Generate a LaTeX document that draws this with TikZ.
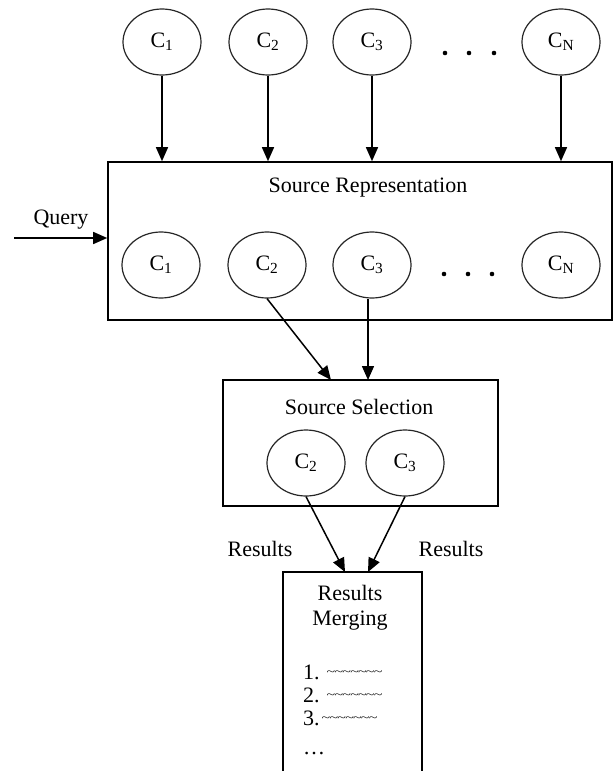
\documentclass[tikz,border=0pt]{standalone}
\usepackage{fontspec}
\setmainfont{Liberation Serif}
\usetikzlibrary{arrows.meta,shapes.geometric}

% a short run of flattened tildes standing for a result entry
\newcommand\tildes{\raisebox{4pt}{\scalebox{1}[0.7]{\fontsize{16}{16}\selectfont
  \textasciitilde\kern-0.8pt\textasciitilde\kern-0.8pt\textasciitilde\kern-0.8pt%
  \textasciitilde\kern-0.8pt\textasciitilde\kern-0.8pt\textasciitilde\kern-0.8pt\textasciitilde}}}

\begin{document}
\begin{tikzpicture}[x=1pt,y=-1pt,
  every node/.style={font=\fontsize{22}{25}\selectfont, text=black},
  coll/.style={ellipse, draw=black!85, line width=1.2pt, minimum width=78pt,
               minimum height=66pt, inner sep=0pt},
  panel/.style={rectangle, draw=black, line width=1.6pt, inner sep=0pt},
  boxline/.style={draw=black, line width=1.6pt},
  arr/.style={draw=black, line width=1.5pt,
              -{Triangle[length=14pt,width=12pt]}},
  dotmark/.style={fill=black},
]
\useasboundingbox (0,0) rectangle (614,771);

% collections feeding the source representation
\node[coll] (t1) at (162,42) {C\textsubscript{1}};
\node[coll] (t2) at (268,42) {C\textsubscript{2}};
\node[coll] (t3) at (372,42) {C\textsubscript{3}};
\node[coll] (tN) at (561,42) {C\textsubscript{N}};
\foreach \x in {445,469,494} \fill[dotmark] (\x,53) circle (2.3pt);

% source representation panel
\node[panel, minimum width=504pt, minimum height=158pt] (sr) at (360,241) {};
\node (srl) at (368,188) {Source Representation};
\node[coll] (r1) at (161,265) {C\textsubscript{1}};
\node[coll] (r2) at (267,265) {C\textsubscript{2}};
\node[coll] (r3) at (372,265) {C\textsubscript{3}};
\node[coll] (rN) at (561,265) {C\textsubscript{N}};
\foreach \x in {444,468,492} \fill[dotmark] (\x,274) circle (2.3pt);

\foreach \n in {t1,t2,t3,tN}
  \draw[arr] (\n.south) -- (\n.south |- sr.north);

% query input
\coordinate (qin) at (14,238);
\node (ql) at (61,220) {Query};
\draw[arr] (qin) -- (qin -| sr.west);

% source selection panel
\node[panel, minimum width=275pt, minimum height=126pt] (ss) at (360.5,443) {};
\node (ssl) at (359,407) {Source Selection};
\node[coll] (s2) at (306,463) {C\textsubscript{2}};
\node[coll] (s3) at (405,463) {C\textsubscript{3}};

\coordinate (ssin2) at (331,380);
\coordinate (ssin3) at (368,380);
\draw[arr] (r2.south) -- (ssin2);
\draw[arr] (ssin3 |- r3.south) -- (ssin3);

% results merging list (open at the bottom)
\coordinate (rmbl) at (283,790);
\coordinate (rmtl) at (283,572);
\coordinate (rmtr) at (422,572);
\coordinate (rmbr) at (422,790);
\draw[boxline] (rmbl) -- (rmtl) -- (rmtr) -- (rmbr);
\node[align=center] (rm) at (350,607.5) {Results\\Merging};
\node[anchor=base west, inner sep=0pt] (i1) at (303,679) {1.\hspace{7pt}\tildes};
\node[anchor=base west, inner sep=0pt] (i2) at (303,702) {2.\hspace{7pt}\tildes};
\node[anchor=base west, inner sep=0pt] (i3) at (303,725) {3.\hspace{2pt}\tildes};
\node[anchor=base west, inner sep=0pt] (i4) at (303,754) {\ldots};

\coordinate (m2) at (345,572);
\coordinate (m3) at (368,572);
\draw[arr] (s2.south) -- (m2);
\draw[arr] (s3.south) -- (m3);
\node (res1) at (260,549) {Results};
\node (res2) at (451,549) {Results};
\end{tikzpicture}
\end{document}
